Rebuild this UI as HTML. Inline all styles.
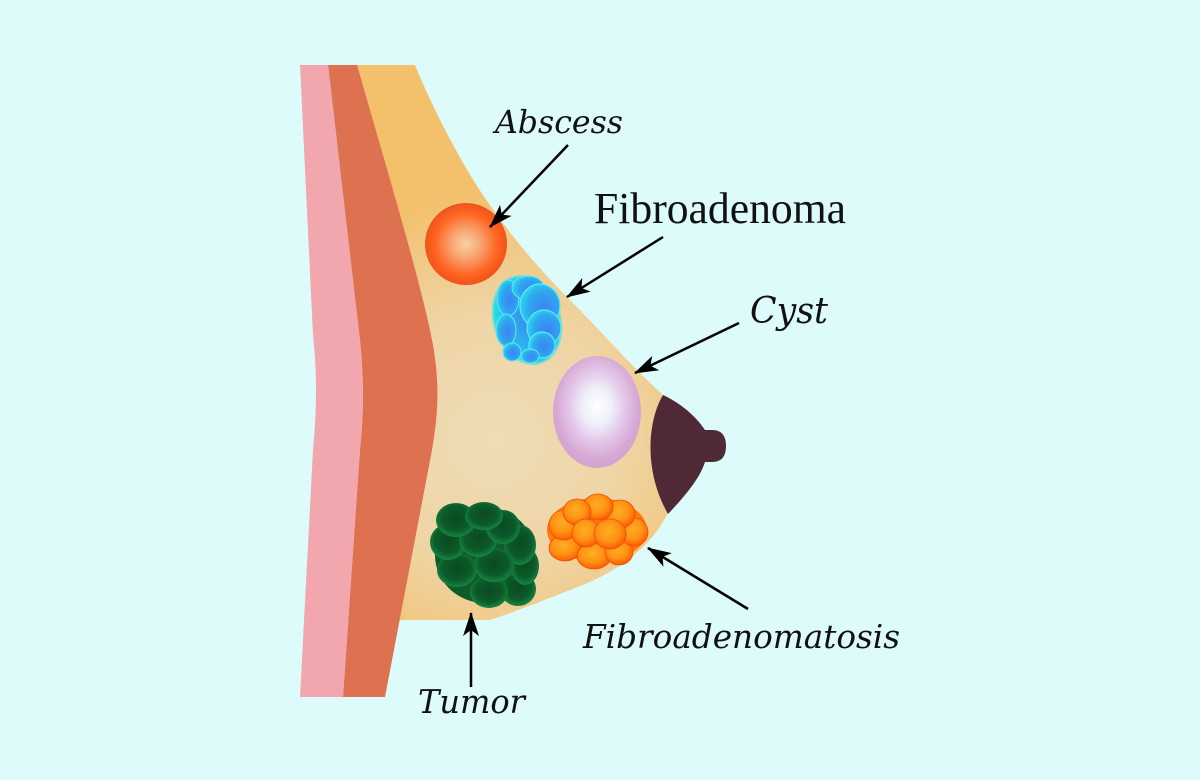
<!DOCTYPE html>
<html><head><meta charset="utf-8"><style>
html,body{margin:0;padding:0;background:#dcfbfa;}
svg{display:block;}
</style></head><body>
<svg width="1200" height="780" viewBox="0 0 1200 780" xmlns="http://www.w3.org/2000/svg">
<defs>
<radialGradient id="tanG" cx="495" cy="440" r="250" gradientUnits="userSpaceOnUse">
<stop offset="0" stop-color="#eedcb6"/><stop offset="0.5" stop-color="#efd5a6"/><stop offset="1" stop-color="#f3c06c"/>
</radialGradient>
<radialGradient id="absG" cx="0.5" cy="0.5" r="0.5">
<stop offset="0" stop-color="#f7d2a2"/><stop offset="0.35" stop-color="#f8a574"/><stop offset="0.75" stop-color="#ff6622"/><stop offset="1" stop-color="#f0531a"/>
</radialGradient>
<radialGradient id="cystG" cx="0.5" cy="0.45" r="0.55">
<stop offset="0" stop-color="#ffffff"/><stop offset="0.3" stop-color="#eef0fa"/><stop offset="0.6" stop-color="#e2c4e6"/><stop offset="0.85" stop-color="#d6a8d4"/><stop offset="1" stop-color="#d3a3cf"/>
</radialGradient>
<radialGradient id="blueBase" cx="0.55" cy="0.5" r="0.55">
<stop offset="0" stop-color="#3a86f0"/><stop offset="0.7" stop-color="#2bb8ee"/><stop offset="1" stop-color="#22e2e4"/>
</radialGradient>
<radialGradient id="blueL" cx="0.6" cy="0.55" r="0.6">
<stop offset="0" stop-color="#3a84f2"/><stop offset="0.65" stop-color="#2fa6f0"/><stop offset="1" stop-color="#2ad6ea"/>
</radialGradient>
<radialGradient id="tg" cx="0.5" cy="0.45" r="0.55">
<stop offset="0" stop-color="#0a4a22"/><stop offset="0.65" stop-color="#0c5a2a"/><stop offset="1" stop-color="#168642"/>
</radialGradient>
<radialGradient id="og" cx="0.45" cy="0.4" r="0.6">
<stop offset="0" stop-color="#ffad24"/><stop offset="0.6" stop-color="#ff9212"/><stop offset="1" stop-color="#ff5c05"/>
</radialGradient>
<marker id="ah" viewBox="0 0 24 18" refX="23" refY="9" markerWidth="24" markerHeight="18" orient="auto" markerUnits="userSpaceOnUse">
<path d="M0,1 L24,9 L0,17 L6,9 Z" fill="#000"/>
</marker>
</defs>

<rect width="1200" height="780" fill="#dcfbfa"/>

<!-- tan breast -->
<path d="M340,65 L415,65 C430,102 452,145 472,178 C490,207 520,250 570,300 C600,330 630,365 663,395 L668,512 C655,542 625,566 590,582 C555,596 520,610 490,620 L340,620 Z" fill="url(#tanG)"/>

<!-- brown muscle -->
<path d="M328,65 L357,65 C390,180 423,290 433,345 C440,385 438,415 432,450 L385,697 L343,697 L360,450 C364,410 364,380 360,340 Z" fill="#dd7150"/>
<!-- pink skin -->
<path d="M300,65 L328,65 L360,340 C364,380 364,410 360,450 L343,697 L300,697 L313,450 C317,410 317,370 313,335 Z" fill="#f2a6ae"/>

<!-- areola + nipple -->
<path d="M663,395 C648,420 643,470 668,514 C686,495 700,478 705,462 L712,462 C722,462 726,456 726,446 C726,436 722,430 712,430 L705,430 C695,415 680,403 663,395 Z" fill="#4f2a36"/>

<!-- abscess -->
<circle cx="466" cy="244" r="41" fill="url(#absG)"/>

<!-- fibroadenoma -->
<g>
<ellipse cx="527" cy="320" rx="34" ry="46" transform="rotate(-18 527 320)" fill="#2ee4e6" opacity="0.6"/>
<ellipse cx="527" cy="320" rx="32" ry="44" transform="rotate(-18 527 320)" fill="url(#blueBase)"/>
<ellipse cx="508" cy="298" rx="11" ry="18" fill="url(#blueL)" stroke="#5ee8f2" stroke-width="1"/>
<ellipse cx="506" cy="330" rx="10" ry="16" fill="url(#blueL)" stroke="#5ee8f2" stroke-width="1"/>
<ellipse cx="512" cy="352" rx="9" ry="9" fill="url(#blueL)" stroke="#5ee8f2" stroke-width="1"/>
<ellipse cx="528" cy="288" rx="16" ry="12" fill="url(#blueL)" stroke="#5ee8f2" stroke-width="1"/>
<ellipse cx="540" cy="306" rx="20" ry="22" fill="url(#blueL)" stroke="#5ee8f2" stroke-width="1.2"/>
<ellipse cx="544" cy="328" rx="17" ry="18" fill="url(#blueL)" stroke="#5ee8f2" stroke-width="1.2"/>
<ellipse cx="542" cy="345" rx="13" ry="13" fill="url(#blueL)" stroke="#5ee8f2" stroke-width="1.2"/>
<ellipse cx="530" cy="356" rx="9" ry="7" fill="url(#blueL)" stroke="#5ee8f2" stroke-width="1"/>
</g>

<!-- cyst -->
<ellipse cx="597" cy="412" rx="44" ry="56" fill="url(#cystG)"/>

<!-- tumor -->
<g>
<ellipse cx="485" cy="555" rx="50" ry="48" fill="#0d5c2a"/>
<ellipse cx="518" cy="589" rx="18" ry="17" fill="url(#tg)"/>
<ellipse cx="489" cy="592" rx="19" ry="16" fill="url(#tg)"/>
<ellipse cx="525" cy="566" rx="14" ry="19" fill="url(#tg)"/>
<ellipse cx="457" cy="570" rx="20" ry="17" fill="url(#tg)"/>
<ellipse cx="520" cy="545" rx="16" ry="20" fill="url(#tg)"/>
<ellipse cx="448" cy="542" rx="18" ry="18" fill="url(#tg)"/>
<ellipse cx="494" cy="565" rx="20" ry="17" fill="url(#tg)"/>
<ellipse cx="478" cy="540" rx="19" ry="17" fill="url(#tg)"/>
<ellipse cx="503" cy="527" rx="17" ry="17" fill="url(#tg)"/>
<ellipse cx="456" cy="520" rx="20" ry="17" fill="url(#tg)"/>
<ellipse cx="484" cy="516" rx="19" ry="14" fill="url(#tg)"/>
</g>

<!-- fibroadenomatosis -->
<g stroke="#f04c08" stroke-width="0.8">
<ellipse cx="597" cy="530" rx="50" ry="32" fill="#ff7a0a" stroke="none"/>
<ellipse cx="565" cy="548" rx="16" ry="13" fill="url(#og)"/>
<ellipse cx="594" cy="556" rx="17" ry="13" fill="url(#og)"/>
<ellipse cx="619" cy="552" rx="14" ry="13" fill="url(#og)"/>
<ellipse cx="634" cy="532" rx="14" ry="14" fill="url(#og)"/>
<ellipse cx="564" cy="525" rx="15" ry="15" fill="url(#og)"/>
<ellipse cx="620" cy="514" rx="15" ry="14" fill="url(#og)"/>
<ellipse cx="598" cy="507" rx="15" ry="13" fill="url(#og)"/>
<ellipse cx="577" cy="512" rx="14" ry="13" fill="url(#og)"/>
<ellipse cx="586" cy="533" rx="14" ry="14" fill="url(#og)"/>
<ellipse cx="610" cy="534" rx="16" ry="15" fill="url(#og)"/>
</g>

<!-- arrows -->
<g stroke="#000" stroke-width="2.5" fill="none">
<line x1="568" y1="145" x2="490" y2="227" marker-end="url(#ah)"/>
<line x1="663" y1="237" x2="567" y2="297" marker-end="url(#ah)"/>
<line x1="739" y1="323" x2="635" y2="373" marker-end="url(#ah)"/>
<line x1="748" y1="609" x2="648" y2="548" marker-end="url(#ah)"/>
<line x1="471" y1="687" x2="471" y2="613" marker-end="url(#ah)"/>
</g>

<!-- labels -->
<g fill="#111">
<text x="495" y="133" font-family="DejaVu Serif, serif" font-style="italic" font-size="32" textLength="128" lengthAdjust="spacingAndGlyphs">Abscess</text>
<text x="594" y="223" font-family="Liberation Serif, serif" font-size="44" textLength="252" lengthAdjust="spacingAndGlyphs">Fibroadenoma</text>
<text x="750" y="323" font-family="DejaVu Serif, serif" font-style="italic" font-size="36" textLength="78" lengthAdjust="spacingAndGlyphs">Cyst</text>
<text x="583" y="648" font-family="DejaVu Serif, serif" font-style="italic" font-size="33" textLength="317" lengthAdjust="spacingAndGlyphs">Fibroadenomatosis</text>
<text x="418" y="713" font-family="DejaVu Serif, serif" font-style="italic" font-size="33" textLength="107" lengthAdjust="spacingAndGlyphs">Tumor</text>
</g>
</svg>
</body></html>
